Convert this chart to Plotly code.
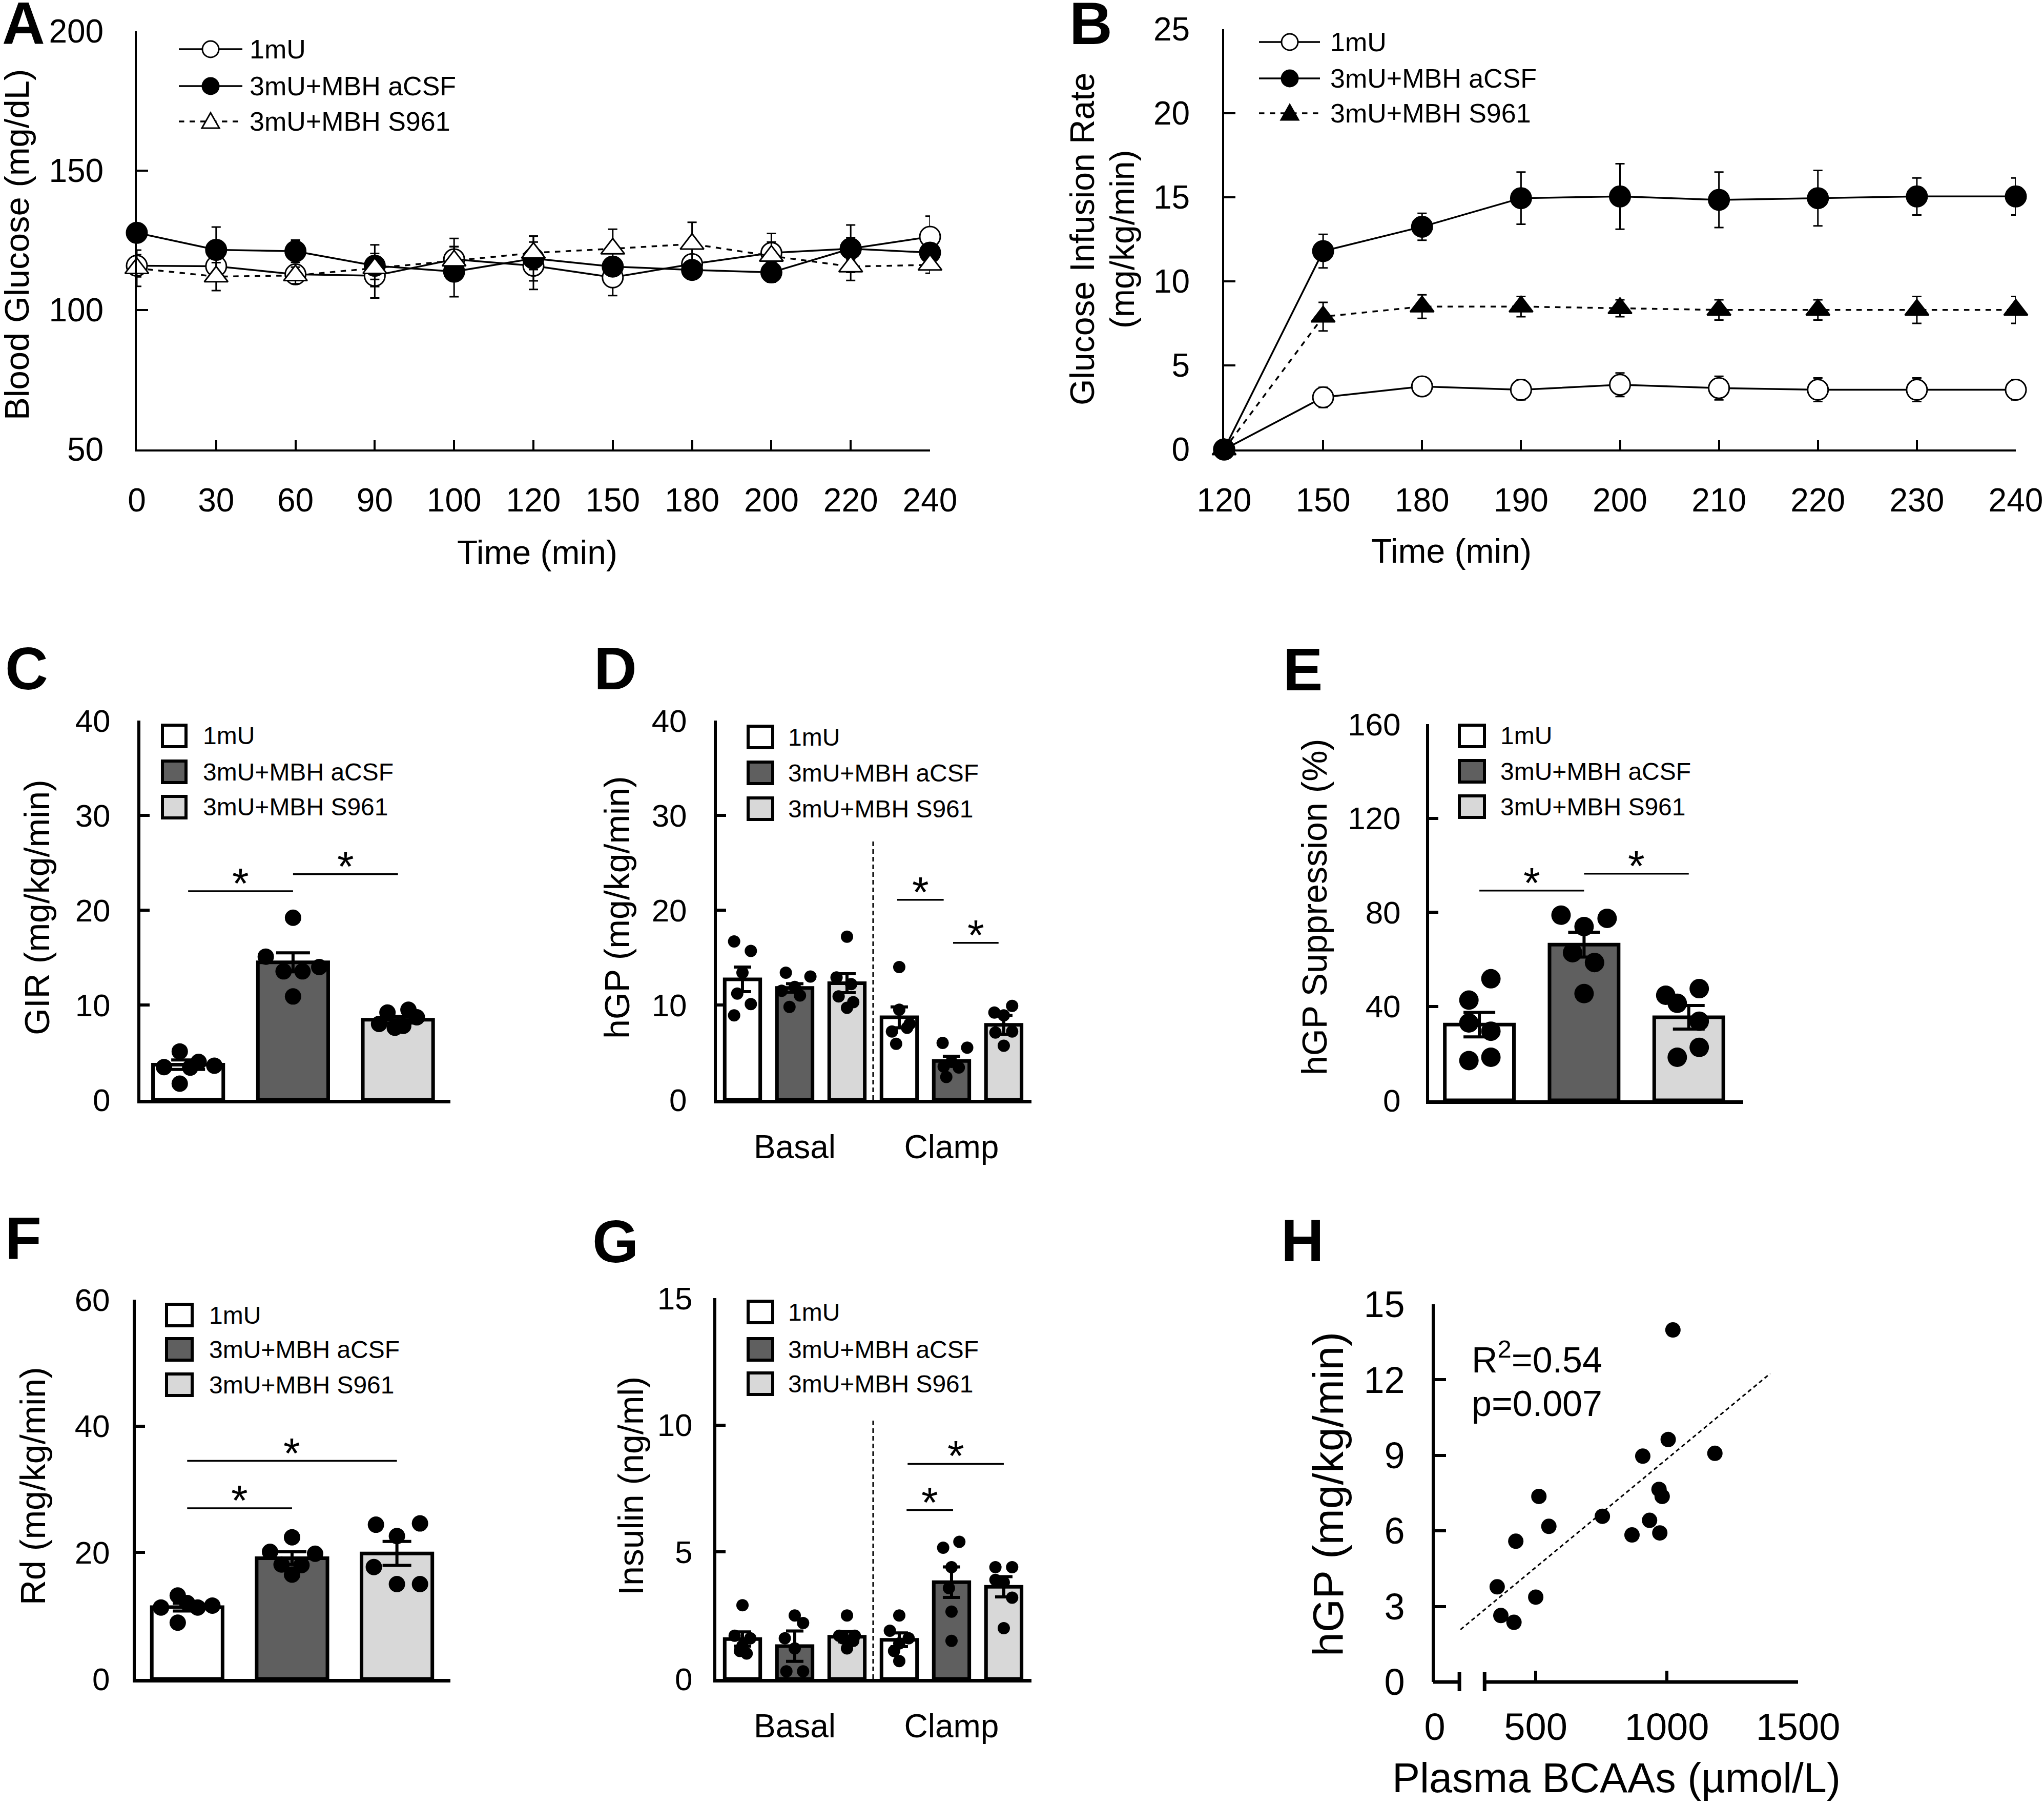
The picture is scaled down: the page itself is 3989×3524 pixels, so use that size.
import plotly.graph_objects as go

# ---------------- data ----------------
groups = ["1mU", "3mU+MBH aCSF", "3mU+MBH S961"]

# Panel A - blood glucose (mg/dL)
A_time = ["0", "30", "60", "90", "100", "120", "150", "180", "200", "220", "240"]
A_1mU = [115.9, 115.7, 112.8, 112.3, 118.2, 115.9, 111.7, 116.5, 120.5, 122.0, 126.3]
A_1mU_err = [4.0, 4.0, 3.0, 8.0, 7.5, 8.5, 6.5, 3.0, 7.0, 4.0, 7.4]
A_acsf = [127.7, 121.6, 121.1, 115.9, 113.8, 118.5, 115.6, 114.4, 113.5, 122.0, 120.6]
A_acsf_err = [3.0, 8.2, 4.0, 7.5, 9.0, 8.0, 3.0, 2.5, 3.5, 8.5, 3.0]
A_s961 = [115.0, 112.0, 112.4, 115.0, 117.7, 120.5, 122.0, 123.7, 119.4, 115.6, 116.2]
A_s961_err = [6.5, 5.0, 3.0, 4.0, 5.0, 6.0, 7.0, 7.8, 5.0, 5.0, 3.0]

# Panel B - glucose infusion rate (mg/kg/min)
B_time = ["120", "150", "180", "190", "200", "210", "220", "230", "240"]
B_1mU = [0, 3.1, 3.75, 3.55, 3.85, 3.65, 3.55, 3.55, 3.55]
B_1mU_err = [0, 0.6, 0.3, 0.6, 0.7, 0.7, 0.7, 0.7, 0.6]
B_acsf = [0, 11.8, 13.25, 14.95, 15.05, 14.85, 14.95, 15.05, 15.05]
B_acsf_err = [0, 1.0, 0.8, 1.55, 1.95, 1.65, 1.65, 1.1, 1.1]
B_s961 = [0, 7.9, 8.5, 8.5, 8.4, 8.3, 8.3, 8.3, 8.3]
B_s961_err = [0, 0.85, 0.7, 0.6, 0.5, 0.6, 0.6, 0.8, 0.8]

# Panel C - GIR
C_mean = [3.7, 14.5, 8.45]
C_sem = [0.5, 1.0, 0.35]
C_pts = [[5.1, 3.45, 1.7, 4.0, 3.6, 3.4],
         [19.2, 15.1, 14.0, 13.55, 13.55, 10.9],
         [9.2, 9.5, 8.0, 7.6, 7.8, 8.7]]
C_sig = [(0, 1, 22.0), (1, 2, 23.8)]

# Panel D - hGP basal / clamp
D_mean = [12.7, 11.8, 12.3, 8.7, 4.1, 7.9]
D_sem = [1.3, 0.45, 1.0, 1.1, 0.5, 1.0]
D_pts = [[16.7, 15.7, 13.4, 11.2, 10.1, 8.9],
         [13.4, 13.0, 11.9, 11.0, 9.8, 11.5],
         [17.2, 12.9, 12.2, 10.9, 10.3, 9.7],
         [14.0, 9.5, 7.6, 7.2, 8.0, 5.9],
         [6.0, 5.5, 4.0, 3.5, 3.4, 2.4],
         [9.9, 9.2, 8.9, 7.1, 7.2, 5.7]]
D_sig = [(2.96, 3.85, 21.1), (4.03, 4.9, 16.55)]
D_divider_top = 27.3

# Panel E - hGP suppression (%)
E_mean = [32.2, 66.2, 35.3]
E_sem = [5.2, 5.3, 5.0]
E_pts = [[51.7, 42.6, 32.9, 29.4, 16.9, 18.3],
         [78.75, 77.4, 73.9, 62.8, 58.6, 45.4],
         [47.5, 44.7, 41.25, 33.6, 22.5, 18.3]]
E_sig = [(0, 1, 89.2), (1, 2, 96.4)]

# Panel F - Rd
F_mean = [11.35, 19.1, 19.85]
F_sem = [0.6, 1.0, 1.9]
F_pts = [[13.2, 11.3, 12.0, 11.3, 11.6, 8.9],
         [22.4, 20.1, 19.8, 18.1, 18.0, 16.5],
         [24.4, 24.6, 22.6, 17.7, 15.0, 15.0]]
F_sig = [(0, 1, 27.0), (0, 2, 34.5)]

# Panel G - insulin (ng/ml)
G_mean = [1.57, 1.29, 1.66, 1.54, 3.81, 3.63]
G_sem = [0.28, 0.6, 0.2, 0.27, 0.6, 0.4]
G_pts = [[2.9, 1.7, 1.6, 1.3, 1.1, 1.0],
         [2.5, 2.2, 1.6, 1.2, 0.3, 0.3],
         [2.5, 1.7, 1.7, 1.6, 1.5, 1.2],
         [2.5, 1.9, 1.6, 1.4, 0.7, 1.1],
         [5.17, 5.4, 4.4, 3.58, 2.65, 1.5],
         [4.4, 4.4, 3.8, 3.9, 3.2, 2.0]]
G_sig = [(3.14, 4.03, 6.65), (3.16, 5.0, 8.47)]
G_divider_top = 10.2

# Panel H - correlation
H_bcaa = [1023, 353, 367, 417, 500, 424, 512, 550, 754, 867, 908, 934, 973, 970, 982, 1005, 1183]
H_hgp = [13.98, 3.78, 2.64, 2.37, 3.37, 5.59, 7.37, 6.18, 6.58, 5.84, 8.97, 6.42, 5.92, 7.65, 7.37, 9.63, 9.08]
H_fit_x = [213, 1394]
H_fit_y = [2.08, 12.25]
H_stats = ["R<sup>2</sup>=0.54", "p=0.007"]

# ---------------- layout helpers ----------------
W, H = 3989, 3524
FONT = "Liberation Sans, Arial, Helvetica, sans-serif"
FILLS = ["#ffffff", "#5f5f5f", "#d8d8d8"]

# jitter of the individual dots inside each bar (layout only)
C_jit = [[-0.08, -0.23, -0.08, 0.1, 0.25, 0.02], [0, -0.26, 0.25, -0.09, 0.09, 0], [-0.1, 0.1, -0.18, -0.03, 0.05, 0.18]]
D_jit = [[-0.16, 0.16, 0, -0.1, 0.16, -0.16], [-0.17, 0.3, 0, 0.1, -0.1, -0.25], [0, -0.2, 0.08, -0.16, 0.12, 0],
         [0, 0, 0.15, -0.14, 0.2, -0.06], [-0.17, 0.3, 0, -0.15, 0.14, -0.1], [0.16, -0.18, 0, -0.16, 0.16, 0]]
E_jit = [[0.11, -0.1, -0.1, 0.11, -0.1, 0.11], [-0.22, 0.22, 0, -0.11, 0.1, 0], [0.1, -0.22, -0.11, 0.1, 0.1, -0.11]]
F_jit = [[-0.09, -0.25, 0, 0.1, 0.24, -0.09], [0, -0.21, 0.22, -0.1, 0.09, 0], [-0.2, 0.22, 0, -0.22, 0, 0.22]]
G_jit = [[0, -0.15, 0.15, 0, -0.05, 0.08], [0, 0.16, -0.19, 0, -0.16, 0.16], [0, -0.15, 0.15, -0.08, 0.12, 0],
         [0, -0.18, 0.18, 0, 0, -0.1], [-0.16, 0.15, 0, -0.05, 0, 0], [-0.16, 0.16, 0, -0.16, 0.16, 0]]


def fx(x):
    return x / W


def fy(y):
    return 1 - y / H


# plot boxes in pixels: (left, right, top, bottom)
BOX = {
    1: (267, 1815, 61, 877),
    2: (2389, 3934, 57, 877),
    3: (274, 879, 1406, 2146),
    4: (1399, 2013, 1406, 2146),
    5: (2789, 3402, 1413, 2147),
    6: (265, 879, 2536, 3276),
    7: (1398, 2013, 2533, 3276),
    8: (2800, 3509, 2545, 3282),
}

layout = dict(width=W, height=H, margin=dict(l=0, r=0, t=0, b=0, pad=0), template="none",
              paper_bgcolor="white", plot_bgcolor="white", showlegend=False,
              font=dict(family=FONT, color="black"))
shapes = []
annotations = []
fig = go.Figure()


def sfx(i):
    return "" if i == 1 else str(i)


def axes(i, xr, yr, xkw, ykw):
    l, r, t, b = BOX[i]
    s = sfx(i)
    base = dict(showgrid=False, zeroline=False, color="black", automargin=False)
    layout["xaxis" + s] = dict(domain=[fx(l), fx(r)], anchor="y" + s, range=xr, **base, **xkw)
    layout["yaxis" + s] = dict(domain=[fy(b), fy(t)], anchor="x" + s, range=yr, **base, **ykw)


def ytick(vals, lw, tl, fs, standoff):
    return dict(showline=True, linewidth=lw, linecolor="black", ticks="inside", ticklen=tl,
                tickwidth=lw, tickcolor="black", tickvals=vals, ticklabelstandoff=standoff,
                tickfont=dict(size=fs, family=FONT))


def text(x, y, s, size, xanchor="center", yanchor="middle", angle=0, bold=False):
    annotations.append(dict(x=fx(x), y=fy(y), xref="paper", yref="paper", text=("<b>%s</b>" % s) if bold else s,
                            showarrow=False, xanchor=xanchor, yanchor=yanchor, textangle=angle,
                            font=dict(size=size, family=FONT, color="black")))


def line_series(i, x, y, err, symbol, fill, dash, size):
    s = sfx(i)
    fig.add_trace(go.Scatter(x=x, y=y, mode="lines+markers", xaxis="x" + s, yaxis="y" + s, cliponaxis=False,
                             line=dict(color="black", width=3.5, dash=dash),
                             marker=dict(symbol=symbol, size=size, color=fill, line=dict(color="black", width=3)),
                             error_y=dict(type="data", array=err, thickness=3, width=9, color="black")))


def bar_panel(i, mean, sem, pts, jit, width, cap, dot, sig, star_size=84):
    s = sfx(i)
    n = len(mean)
    fig.add_trace(go.Bar(x=list(range(n)), y=mean, width=width, xaxis="x" + s, yaxis="y" + s,
                         marker=dict(color=[FILLS[k % 3] for k in range(n)], line=dict(color="black", width=7)),
                         error_y=dict(type="data", array=sem, thickness=6, width=cap, color="black")))
    xs, ys = [], []
    for k in range(n):
        for v, j in zip(pts[k], jit[k]):
            xs.append(k + j)
            ys.append(v)
    fig.add_trace(go.Scatter(x=xs, y=ys, mode="markers", xaxis="x" + s, yaxis="y" + s, cliponaxis=False,
                             marker=dict(color="black", size=dot)))
    for xa, xb, yv in sig:
        shapes.append(dict(type="line", xref="x" + s, yref="y" + s, x0=xa, x1=xb, y0=yv, y1=yv,
                           line=dict(color="black", width=3.5)))
        annotations.append(dict(x=(xa + xb) / 2, y=yv, xref="x" + s, yref="y" + s, text="*", showarrow=False,
                                xanchor="center", yanchor="middle", yshift=15,
                                font=dict(size=star_size, family=FONT, color="black")))


def bar_legend(x0, x1, rows, tx, size=48):
    for k, yc in enumerate(rows):
        shapes.append(dict(type="rect", xref="paper", yref="paper", x0=fx(x0), x1=fx(x1),
                           y0=fy(yc + 21), y1=fy(yc - 21), fillcolor=FILLS[k], line=dict(color="black", width=6)))
        text(tx, yc, groups[k], size, xanchor="left")


def line_legend(x0, x1, xm, rows, tx, specs, size=52):
    for yc, (kind, fill, dash), label in zip(rows, specs, groups):
        shapes.append(dict(type="line", xref="paper", yref="paper", x0=fx(x0), x1=fx(x1), y0=fy(yc), y1=fy(yc),
                           line=dict(color="black", width=3.5, dash=dash)))
        common = dict(xref="paper", yref="paper", xsizemode="pixel", ysizemode="pixel",
                      xanchor=fx(xm), yanchor=fy(yc), fillcolor=fill, line=dict(color="black", width=3))
        if kind == "circle":
            shapes.append(dict(type="circle", x0=-16, x1=16, y0=-16, y1=16, **common))
        else:
            shapes.append(dict(type="path", path="M -17,-13 L 17,-13 L 0,17 Z", **common))
        text(tx, yc, label, size, xanchor="left")


# ---------------- Panel A ----------------
axes(1, [0, 10], [50, 200],
     dict(type="category", showline=True, linewidth=4, linecolor="black", ticks="inside", ticklen=18, tickwidth=4,
          tickcolor="black", ticklabelstandoff=40, tickfont=dict(size=64, family=FONT)),
     ytick([50, 100, 150, 200], 4, 22, 64, 48))
line_series(1, A_time, A_1mU, A_1mU_err, "circle", "white", "solid", 40)
line_series(1, A_time, A_acsf, A_acsf_err, "circle", "black", "solid", 40)
line_series(1, A_time, A_s961, A_s961_err, "triangle-up", "white", "dash", 40)
line_legend(349, 473, 411, [96, 168, 237], 485,
            [("circle", "white", "solid"), ("circle", "black", "solid"), ("tri", "white", "dash")])
text(33, 478, "Blood Glucose (mg/dL)", 67, angle=-90)
text(1048, 1078, "Time (min)", 66)
text(2, 46, "A", 116, xanchor="left", bold=True)

# ---------------- Panel B ----------------
axes(2, [0, 8], [0, 25],
     dict(type="category", showline=True, linewidth=4, linecolor="black", ticks="inside", ticklen=18, tickwidth=4,
          tickcolor="black", ticklabelstandoff=40, tickfont=dict(size=64, family=FONT)),
     ytick([0, 5, 10, 15, 20, 25], 4, 22, 64, 50))
line_series(2, B_time, B_1mU, B_1mU_err, "circle", "white", "solid", 40)
line_series(2, B_time, B_acsf, B_acsf_err, "circle", "black", "solid", 40)
line_series(2, B_time, B_s961, B_s961_err, "triangle-up", "black", "dash", 40)
line_legend(2457, 2576, 2517, [82, 153, 221], 2594,
            [("circle", "white", "solid"), ("circle", "black", "solid"), ("tri", "black", "dash")])
text(2112, 467, "Glucose Infusion Rate", 66, angle=-90)
text(2190, 467, "(mg/kg/min)", 66, angle=-90)
text(2832, 1075, "Time (min)", 66)
text(2085, 46, "B", 116, xanchor="left", bold=True)

# ---------------- Panel C ----------------
noticks_x = dict(showline=True, linewidth=7, linecolor="black", ticks="", showticklabels=False)
axes(3, [-0.455, 2.5], [0, 40], noticks_x, ytick([0, 10, 20, 30, 40], 6, 18, 62, 40))
bar_panel(3, C_mean, C_sem, C_pts, C_jit, 0.67, 33, 32, C_sig)
bar_legend(317, 363, [1436, 1506, 1575], 394)
text(72, 1771, "GIR (mg/kg/min)", 68, angle=-90)
text(8, 1305, "C", 116, xanchor="left", bold=True)

# ---------------- Panel D ----------------
bg_x = dict(showline=True, linewidth=7, linecolor="black", ticks="", tickvals=[1, 4], ticktext=["Basal", "Clamp"],
            ticklabelstandoff=30, tickfont=dict(size=64, family=FONT))
axes(4, [-0.49, 5.53], [0, 40], bg_x, ytick([0, 10, 20, 30, 40], 6, 18, 62, 40))
bar_panel(4, D_mean, D_sem, D_pts, D_jit, 0.68, 17, 24, D_sig)
shapes.append(dict(type="line", xref="x4", yref="y4", x0=2.5, x1=2.5, y0=0, y1=D_divider_top,
                   line=dict(color="black", width=3, dash="9px,6px")))
bar_legend(1460, 1508, [1438, 1508, 1578], 1536)
text(1204, 1771, "hGP (mg/kg/min)", 68, angle=-90)
text(1157, 1305, "D", 116, xanchor="left", bold=True)

# ---------------- Panel E ----------------
axes(5, [-0.48, 2.52], [0, 160], noticks_x, ytick([0, 40, 80, 120, 160], 6, 18, 62, 37))
bar_panel(5, E_mean, E_sem, E_pts, E_jit, 0.66, 31, 38, E_sig)
bar_legend(2848, 2897, [1436, 1505, 1574], 2926)
text(2565, 1770, "hGP Suppression (%)", 68, angle=-90)
text(2502, 1307, "E", 116, xanchor="left", bold=True)

# ---------------- Panel F ----------------
axes(6, [-0.49, 2.51], [0, 60], noticks_x, ytick([0, 20, 40, 60], 6, 18, 62, 32))
bar_panel(6, F_mean, F_sem, F_pts, F_jit, 0.675, 28, 32, F_sig)
bar_legend(325, 375, [2566, 2633, 2702], 406)
text(64, 2900, "Rd (mg/kg/min)", 68, angle=-90)
text(8, 2417, "F", 116, xanchor="left", bold=True)

# ---------------- Panel G ----------------
axes(7, [-0.5, 5.53], [0, 15], bg_x, ytick([0, 5, 10, 15], 6, 18, 62, 28))
bar_panel(7, G_mean, G_sem, G_pts, G_jit, 0.68, 17, 24, G_sig)
shapes.append(dict(type="line", xref="x7", yref="y7", x0=2.5, x1=2.5, y0=0, y1=G_divider_top,
                   line=dict(color="black", width=3, dash="9px,6px")))
bar_legend(1460, 1508, [2560, 2633, 2700], 1536)
text(1231, 2900, "Insulin (ng/ml)", 68, angle=-90)
text(1154, 2423, "G", 116, xanchor="left", bold=True)

# ---------------- Panel H ----------------
H_xrange = [115, 1500]
H_break = [209, 305]
axes(8, H_xrange, [0, 15],
     dict(showline=False, ticks="inside", ticklen=22, tickwidth=6, tickcolor="black",
          tickvals=[H_xrange[0], 500, 1000, 1500], ticktext=["0", "500", "1000", "1500"],
          ticklabelstandoff=38, tickfont=dict(size=74, family=FONT)),
     ytick([0, 3, 6, 9, 12, 15], 6, 22, 72, 38))
fig.add_trace(go.Scatter(x=H_fit_x, y=H_fit_y, mode="lines", xaxis="x8", yaxis="y8",
                         line=dict(color="black", width=3, dash="8px,6px")))
fig.add_trace(go.Scatter(x=H_bcaa, y=H_hgp, mode="markers", xaxis="x8", yaxis="y8", cliponaxis=False,
                         marker=dict(color="black", size=30)))
# broken x axis line
hl, hr, ht, hb = BOX[8]


def hx(v):
    return fx(hl + (v - H_xrange[0]) / (H_xrange[1] - H_xrange[0]) * (hr - hl))


for a, b in [(H_xrange[0], H_break[0]), (H_break[1], H_xrange[1])]:
    shapes.append(dict(type="line", xref="paper", yref="paper", x0=hx(a) - fx(3), x1=hx(b), y0=fy(hb), y1=fy(hb),
                       line=dict(color="black", width=7)))
for v in H_break:
    shapes.append(dict(type="line", xref="paper", yref="paper", x0=hx(v), x1=hx(v), y0=fy(hb - 19), y1=fy(hb + 18),
                       line=dict(color="black", width=7)))
text(2870, 2649, H_stats[0], 70, xanchor="left")
text(2870, 2739, H_stats[1], 70, xanchor="left")
text(2592, 2916, "hGP (mg/kg/min)", 84, angle=-90)
text(3154, 3469, "Plasma BCAAs (µmol/L)", 81)
text(2498, 2421, "H", 116, xanchor="left", bold=True)

layout["shapes"] = shapes
layout["annotations"] = annotations
fig.update_layout(**layout)
fig.write_html("out.html", config={"displayModeBar": False},
               post_script="document.body.style.margin='0px';document.body.style.overflow='hidden';")
